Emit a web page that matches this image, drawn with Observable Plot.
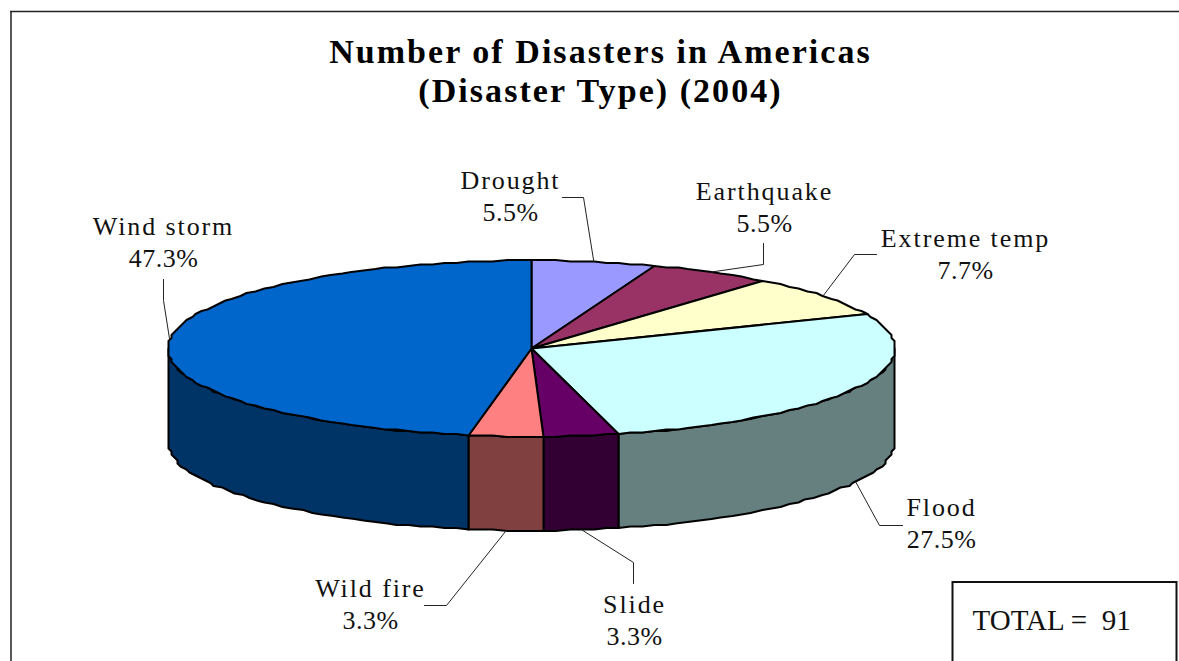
<!DOCTYPE html>
<html>
<head>
<meta charset="utf-8">
<script src="https://cdn.jsdelivr.net/npm/d3@7"></script>
<script src="https://cdn.jsdelivr.net/npm/@observablehq/plot@0.6"></script>
<style>
  html, body { margin: 0; padding: 0; background: #fff; overflow: hidden; }
  svg { display: block; }
</style>
</head>
<body>
<div id="chart"></div>
<script>
// Disaster counts, clockwise from twelve o'clock
const categories = ["Drought", "Earthquake", "Extreme temp", "Flood", "Slide", "Wild fire", "Wind storm"];
const counts = [5, 5, 7, 25, 3, 3, 43];
const topColors = ["#9999FF", "#993366", "#FFFFCC", "#CCFFFF", "#660066", "#FF8080", "#0066CC"];
const wallColors = ["#4D4D80", "#4D1A33", "#808066", "#668080", "#330033", "#804040", "#003366"];
const titleText = "Number of Disasters in Americas\n(Disaster Type) (2004)";

// Drawing geometry, in page pixels
const W = 1179, H = 661;
const disc = {cx: 531, cy: 348, rx: 363, ry: 88, depth: 94, snapX: 3, snapY: 1.5, stepDeg: 2};

// Where each label sits, and the elbows of its leader line
const labelLayout = {
  "Drought":      {x: 510, y: 197, elbow: [[562, 197], [583, 197]]},
  "Earthquake":   {x: 764, y: 208, elbow: [[763, 243], [763, 264]]},
  "Extreme temp": {x: 965, y: 255, elbow: [[876, 254], [854, 254]]},
  "Flood":        {x: 941, y: 524, elbow: [[902, 525], [879, 525]]},
  "Slide":        {x: 634, y: 621, elbow: [[633, 583], [633, 562]]},
  "Wild fire":    {x: 370, y: 605, elbow: [[424, 605], [446, 605]]},
  "Wind storm":   {x: 163, y: 243, elbow: [[163, 279], [163, 300]]}
};

const total = d3.sum(counts);
const fmtPct = d3.format(".1%");
const spacing = (px) => (index, scales, values, dims, ctx, next) => {
  const g = next(index, scales, values, dims, ctx);
  g.style.letterSpacing = px + "px";
  return g;
};

// Angles are in degrees, clockwise from the top of the disc
const rim = (deg, drop = 0) => {
  const a = deg * Math.PI / 180;
  return [disc.cx + disc.rx * Math.sin(a), disc.cy - disc.ry * Math.cos(a) + drop];
};
// The rim is a polygon snapped to a coarse grid, which gives its stepped edge
const snapped = (deg, drop = 0) => {
  const [x, y] = rim(deg);
  return [Math.round(x / disc.snapX) * disc.snapX, Math.round(y / disc.snapY) * disc.snapY + drop];
};
const sweep = (a0, a1, drop = 0) => {
  const n = Math.max(2, Math.ceil(Math.abs(a1 - a0) / disc.stepDeg));
  return d3.range(n + 1).map((i) => snapped(a0 + (a1 - a0) * i / n, drop));
};

let acc = 0;
const slices = categories.map((name, i) => {
  const a0 = acc / total * 360;
  acc += counts[i];
  const a1 = acc / total * 360;
  return {name, count: counts[i], a0, a1, mid: (a0 + a1) / 2, top: topColors[i], wall: wallColors[i]};
});

// Only the front half of the cylinder (90 to 270 degrees) has a visible wall
const wallMarks = slices.flatMap((s) => {
  const lo = Math.max(s.a0, 90), hi = Math.min(s.a1, 270);
  if (hi <= lo) return [];
  const outline = [...sweep(lo, hi), ...sweep(hi, lo, disc.depth)];
  return [Plot.line(outline, {x: (d) => d[0], y: (d) => d[1], fill: s.wall, stroke: "#000", strokeWidth: 2, curve: "linear-closed"})];
});

const topMarks = slices.map((s) => {
  const outline = [[disc.cx, disc.cy], ...sweep(s.a0, s.a1)];
  return Plot.line(outline, {x: (d) => d[0], y: (d) => d[1], fill: s.top, stroke: "#000", strokeWidth: 2, curve: "linear-closed"});
});

// Leaders end on the rim at each slice's middle angle, dropped to the wall's foot at the front
const leaderMarks = slices.map((s) => {
  const front = s.mid > 90 && s.mid < 270;
  const path = [...labelLayout[s.name].elbow, rim(s.mid, front ? disc.depth : 0)];
  return Plot.line(path, {x: (d) => d[0], y: (d) => d[1], stroke: "#222", strokeWidth: 1});
});

const chart = Plot.plot({
  width: W,
  height: H,
  margin: 0,
  x: {domain: [0, W], range: [0, W], axis: null},
  y: {domain: [0, H], range: [0, H], axis: null},
  style: {background: "#fff", fontFamily: "'Liberation Serif', serif", color: "#111"},
  marks: [
    // Chart frame: left and top edges
    Plot.ruleX([10.5], {y1: 11, y2: H, stroke: "#222", strokeWidth: 1.5}),
    Plot.ruleY([11], {x1: 10, x2: W, stroke: "#222", strokeWidth: 1.5}),
    ...wallMarks,
    ...topMarks,
    ...leaderMarks,
    // Category names
    Plot.text(slices, {
      x: (s) => labelLayout[s.name].x,
      y: (s) => labelLayout[s.name].y - 17,
      text: "name",
      fontSize: 26,
      fill: "#111",
      render: spacing(1.9)
    }),
    // Share of the total under each name
    Plot.text(slices, {
      x: (s) => labelLayout[s.name].x,
      y: (s) => labelLayout[s.name].y + 15,
      text: (s) => fmtPct(s.count / total),
      fontSize: 26,
      fill: "#111",
      render: spacing(0.5)
    }),
    Plot.text([titleText], {
      x: 600,
      y: 70,
      fontSize: 34,
      fontWeight: "bold",
      lineHeight: 1.147,
      fill: "#000",
      render: spacing(2.05)
    }),
    // Total box, running off the bottom of the page
    Plot.rect([0], {x1: 952.5, x2: 1176.5, y1: 582, y2: 672, fill: "#fff", stroke: "#111", strokeWidth: 2}),
    Plot.text([`TOTAL =\u00A0\u00A0${total}`], {
      x: 972,
      y: 620,
      textAnchor: "start",
      fontSize: 29,
      fill: "#111"
    })
  ]
});
document.getElementById("chart").append(chart);
</script>
</body>
</html>
